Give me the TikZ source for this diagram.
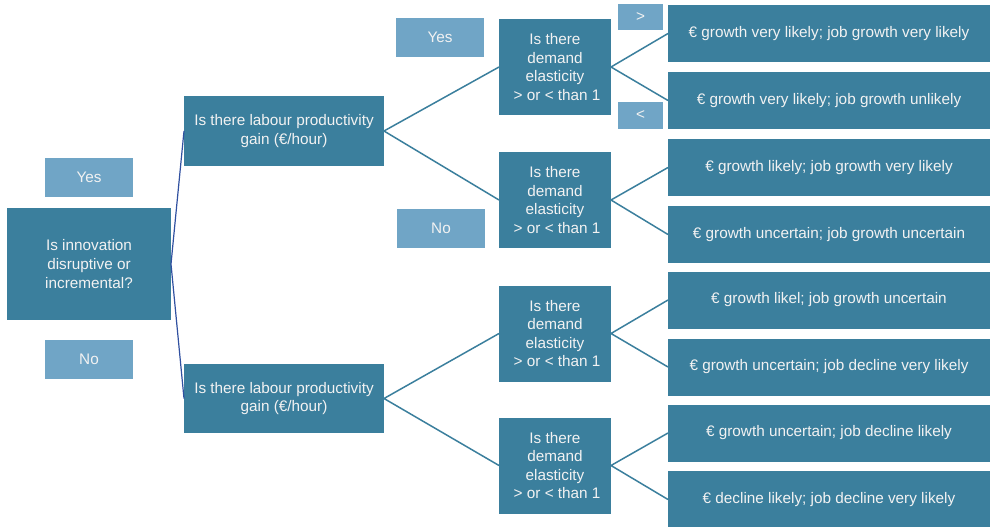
\documentclass[tikz,border=0pt]{standalone}
\usepackage{fontspec}
\setmainfont{Liberation Sans}
\definecolor{boxdark}{HTML}{3B7F9D}
\definecolor{boxlight}{HTML}{70A5C6}
\definecolor{linkblue}{HTML}{3050A0}
\definecolor{txt}{HTML}{F2F2F2}
\begin{document}
\begin{tikzpicture}[x=1pt,y=1pt,
  every node/.style={inner sep=0pt, outer sep=0pt, align=center, text=txt,
    font=\fontsize{15.3}{18.6}\selectfont},
  dark/.style={fill=boxdark},
  light/.style={fill=boxlight},
  q/.style={dark, minimum width=112, minimum height=96},
  outc/.style={dark, minimum width=322, minimum height=57},
  lbl/.style={light, minimum width=88, minimum height=39},
  sml/.style={light, minimum width=45, minimum height=26},
  link/.style={draw=boxdark, line width=1.5pt},
  rootlink/.style={draw=linkblue, line width=1.2pt}]
\useasboundingbox (0,0) rectangle (991,-527);
\node[dark, minimum width=164, minimum height=112] (root) at (89,-264) {Is innovation\\disruptive or\\incremental?};
\node[lbl] (yes1) at (89,-177.5) {Yes};
\node[lbl] (no1) at (89,-359.5) {No};
\node[dark, minimum width=200, minimum height=70] (lab1) at (284,-131) {Is there labour productivity\\gain (€/hour)};
\node[dark, minimum width=200, minimum height=69] (lab2) at (284,-398.5) {Is there labour productivity\\gain (€/hour)};
\node[lbl] (yes2) at (440,-37.5) {Yes};
\node[lbl] (no2) at (441,-228.5) {No};
\node[q] (d1) at (555,-67) {Is there\\demand\\elasticity\\\ > or < than 1};
\node[q] (d2) at (555,-200) {Is there\\demand\\elasticity\\\ > or < than 1};
\node[q] (d3) at (555,-333.5) {Is there\\demand\\elasticity\\\ > or < than 1};
\node[q] (d4) at (555,-465.5) {Is there\\demand\\elasticity\\\ > or < than 1};
\node[sml] (gt) at (640.5,-17.5) {>};
\node[sml, minimum height=27] (lt) at (640.5,-115.5) {<};
\node[outc] (o1) at (829,-33.5) {€ growth very likely; job growth very likely};
\node[outc] (o2) at (829,-100.5) {€ growth very likely; job growth unlikely};
\node[outc] (o3) at (829,-167.5) {€ growth likely; job growth very likely};
\node[outc] (o4) at (829,-234.5) {€ growth uncertain; job growth uncertain};
\node[outc] (o5) at (829,-300) {€ growth likel; job growth uncertain};
\node[outc] (o6) at (829,-367) {€ growth uncertain; job decline very likely};
\node[outc] (o7) at (829,-433) {€ growth uncertain; job decline likely};
\node[outc] (o8) at (829,-499.5) {€ decline likely; job decline very likely};
\draw[rootlink] (lab1.west) -- (root.east) -- (lab2.west);
\draw[link] (d1.west) -- (lab1.east) -- (d2.west);
\draw[link] (d3.west) -- (lab2.east) -- (d4.west);
\draw[link] (o1.west) -- (d1.east) -- (o2.west);
\draw[link] (o3.west) -- (d2.east) -- (o4.west);
\draw[link] (o5.west) -- (d3.east) -- (o6.west);
\draw[link] (o7.west) -- (d4.east) -- (o8.west);
\end{tikzpicture}
\end{document}
